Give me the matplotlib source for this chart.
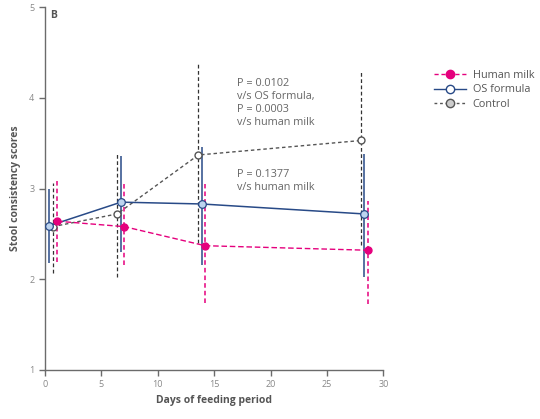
import matplotlib.pyplot as plt
from matplotlib.lines import Line2D

# days at which each group was measured (slightly offset in the original)
days_human = [1.1, 7.05, 14.2, 28.6]
days_os = [0.4, 6.75, 13.9, 28.3]
days_control = [0.7, 6.4, 13.6, 28.05]

# mean scores
human_milk = [2.64, 2.58, 2.37, 2.32]
os_formula = [2.59, 2.85, 2.83, 2.72]
control = [2.58, 2.72, 3.37, 3.53]

# error bar ends (low, high)
human_low = [2.19, 2.16, 1.74, 1.73]
human_high = [3.08, 3.05, 3.05, 2.86]
os_low = [2.18, 2.30, 2.16, 2.03]
os_high = [3.00, 3.36, 3.46, 3.38]
control_low = [2.07, 2.03, 2.40, 2.38]
control_high = [3.06, 3.40, 4.37, 4.31]

PINK = "#e5007d"
BLUE = "#284a87"
GREY = "#555555"
AXIS = "#6b6b6b"

plt.rcParams['font.family'] = ['Open Sans', 'DejaVu Sans']

fig = plt.figure(figsize=(5.4, 4.19), dpi=100)
ax = fig.add_axes([0.083, 0.117, 0.627, 0.866])


def draw_errs(x, lo, hi, color, ls, lw):
    ax.vlines(x, lo, hi, colors=color, linestyles=ls, linewidth=lw, zorder=2)


draw_errs(days_os, os_low, os_high, BLUE, "solid", 1.1)
draw_errs(days_control, control_low, control_high, "#333333", (0, (3, 2)), 0.9)
draw_errs(days_human, human_low, human_high, PINK, (0, (3, 2)), 1.1)

ax.plot(days_control, control, color=GREY, linestyle=(0, (2.5, 2)), linewidth=1.0,
        marker="o", markersize=5, markerfacecolor="white", markeredgecolor=GREY,
        markeredgewidth=1.0, zorder=3)
ax.plot(days_os, os_formula, color=BLUE, linestyle="-", linewidth=1.1,
        marker="o", markersize=5.5, markerfacecolor="#bdd4ef", markeredgecolor=BLUE,
        markeredgewidth=0.9, zorder=4)
ax.plot(days_human, human_milk, color=PINK, linestyle=(0, (4, 2)), linewidth=1.0,
        marker="o", markersize=5, markerfacecolor=PINK, markeredgecolor=PINK, zorder=5)

ax.set_xlim(0, 30)
ax.set_ylim(1, 5)
ax.set_xticks([0, 5, 10, 15, 20, 25, 30])
ax.set_yticks([1, 2, 3, 4, 5])
for side in ("top", "right"):
    ax.spines[side].set_visible(False)
for side in ("left", "bottom"):
    ax.spines[side].set_color(AXIS)
    ax.spines[side].set_linewidth(1.0)
ax.tick_params(axis="both", colors=AXIS, labelcolor="#888888", labelsize=6.5,
               length=4, width=1.0, direction="out")

ax.set_xlabel("Days of feeding period", fontsize=7.5, fontweight="bold", color=GREY,
              labelpad=4)
ax.set_ylabel("Stool consistency scores", fontsize=7.5, fontweight="bold", color=GREY,
              labelpad=6)

ax.text(0.45, 4.97, "B", fontsize=7.5, fontweight="bold", color=GREY, va="top")

ax.text(17.0, 4.22, "P = 0.0102\nv/s OS formula,\nP = 0.0003\nv/s human milk",
        fontsize=7.8, color="#666666", va="top", linespacing=1.25)
ax.text(17.0, 3.22, "P = 0.1377\nv/s human milk",
        fontsize=7.8, color="#666666", va="top", linespacing=1.25)

handles = [
    Line2D([], [], color=PINK, linestyle=(0, (3, 2)), linewidth=1.0, marker="o",
           markersize=6, markerfacecolor=PINK, markeredgecolor=PINK),
    Line2D([], [], color=BLUE, linestyle="-", linewidth=1.0, marker="o",
           markersize=6, markerfacecolor="white", markeredgecolor=BLUE),
    Line2D([], [], color=GREY, linestyle=(0, (2, 2)), linewidth=1.0, marker="o",
           markersize=6, markerfacecolor="#cccccc", markeredgecolor=GREY),
]
fig.legend(handles, ["Human milk", "OS formula", "Control"], loc="upper left",
           bbox_to_anchor=(0.795, 0.843), frameon=False, fontsize=7.8,
           labelcolor="#555555", handlelength=3.0, handletextpad=0.6,
           labelspacing=0.3, borderaxespad=0)

fig.savefig("out.png", dpi=100)
